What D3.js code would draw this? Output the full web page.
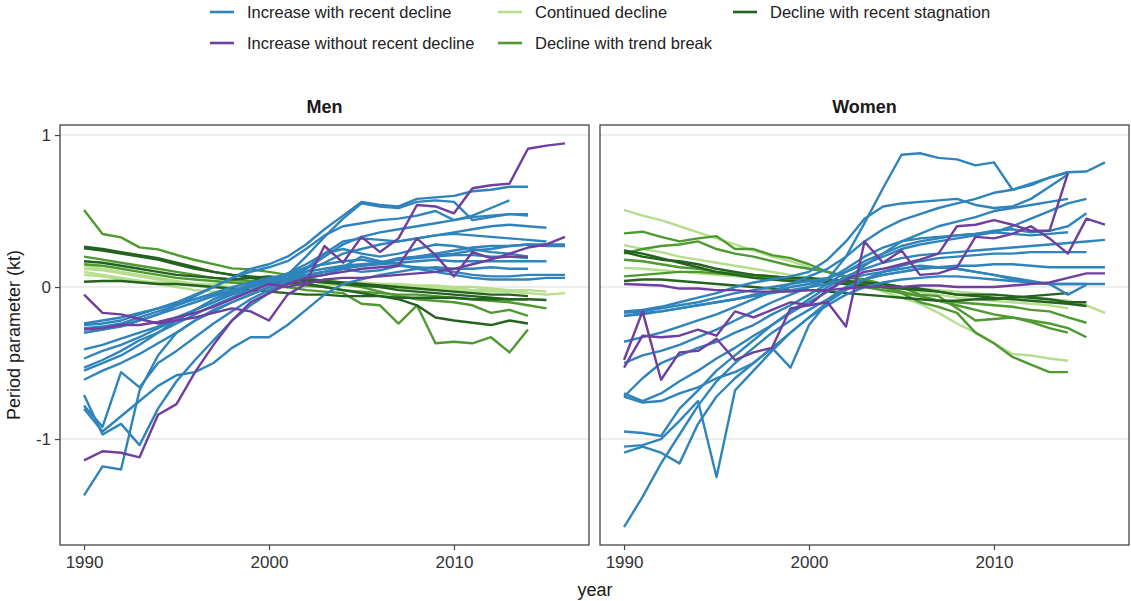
<!DOCTYPE html>
<html>
<head>
<meta charset="utf-8">
<script src="https://cdn.jsdelivr.net/npm/d3@7"></script>
<style>
  html, body { margin: 0; padding: 0; background: #fff; }
  svg { display: block; font-family: "Liberation Sans", Arial, sans-serif; }
</style>
</head>
<body>
<svg id="chart" width="1131" height="601"></svg>
<script>
// Period parameter (kt) by year, every series starts in 1990.
const startYear = 1990;
const xTicks = [1990, 2000, 2010];
const yTicks = [-1, 0, 1];
const panels = ["Men", "Women"];

const categories = [
  "Increase with recent decline",
  "Increase without recent decline",
  "Continued decline",
  "Decline with trend break",
  "Decline with recent stagnation"
];
const categoryColors = ["#2f84bb", "#6f3f9f", "#b5de8e", "#4e9a30", "#24621f"];

// ---- Men ----
const menIncreaseRecentDecline = [
  [-0.30,-0.28,-0.25,-0.22,-0.18,-0.12,-0.06,0.00,0.06,0.12,0.15,0.20,0.28,0.38,0.47,0.56,0.54,0.53,0.58,0.59,0.60,0.63,0.64,0.66,0.66],
  [-0.47,-0.42,-0.38,-0.33,-0.27,-0.22,-0.15,-0.08,-0.03,0.02,0.05,0.08,0.20,0.33,0.45,0.55,0.53,0.52,0.56,0.57,0.56,0.44,0.46,0.48,0.48],
  [-0.25,-0.24,-0.22,-0.18,-0.14,-0.10,-0.05,0.00,0.06,0.10,0.13,0.17,0.25,0.34,0.40,0.42,0.44,0.45,0.47,0.50,0.44,0.47,0.52,0.57],
  [-0.55,-0.50,-0.45,-0.38,-0.30,-0.24,-0.18,-0.12,-0.07,-0.02,0.02,0.06,0.12,0.20,0.28,0.33,0.36,0.38,0.40,0.42,0.44,0.46,0.47,0.48,0.47],
  [-0.61,-0.55,-0.50,-0.44,-0.37,-0.30,-0.22,-0.15,-0.10,-0.05,0.00,0.04,0.10,0.16,0.22,0.25,0.28,0.30,0.32,0.34,0.36,0.38,0.40,0.41,0.40,0.39],
  [-0.27,-0.26,-0.24,-0.20,-0.16,-0.12,-0.08,-0.04,0.00,0.03,0.06,0.08,0.10,0.12,0.14,0.15,0.16,0.18,0.20,0.21,0.22,0.24,0.25,0.27,0.28,0.28,0.28],
  [-0.41,-0.38,-0.34,-0.30,-0.26,-0.20,-0.15,-0.10,-0.05,-0.02,0.02,0.08,0.13,0.15,0.17,0.18,0.16,0.19,0.20,0.22,0.24,0.26,0.27,0.27,0.28,0.27,0.27],
  [-0.71,-0.97,-0.90,-1.04,-0.80,-0.62,-0.48,-0.35,-0.22,-0.12,-0.04,0.02,0.08,0.10,0.13,0.14,0.15,0.16,0.17,0.18,0.17,0.17,0.17,0.17,0.17,0.17],
  [-0.78,-0.92,-0.56,-0.66,-0.50,-0.42,-0.33,-0.24,-0.16,-0.08,-0.02,0.03,0.06,0.08,0.12,0.10,0.11,0.14,0.13,0.12,0.10,0.08,0.07,0.07,0.08,0.08,0.08],
  [-1.37,-1.18,-1.20,-0.68,-0.45,-0.30,-0.22,-0.16,-0.10,-0.05,0.00,0.04,0.07,0.10,0.13,0.20,0.17,0.15,0.12,0.10,0.08,0.06,0.05,0.05,0.05,0.06,0.06],
  [-0.80,-0.95,-0.85,-0.75,-0.65,-0.58,-0.56,-0.50,-0.40,-0.33,-0.33,-0.25,-0.15,-0.05,0.02,0.05,0.08,0.10,0.12,0.13,0.12,0.12,0.13,0.12,0.12],
  [-0.24,-0.22,-0.20,-0.17,-0.14,-0.11,-0.08,-0.05,-0.02,0.01,0.04,0.06,0.08,0.10,0.12,0.14,0.16,0.18,0.19,0.20,0.21,0.21,0.20,0.20,0.19],
  [-0.30,-0.28,-0.26,-0.22,-0.18,-0.14,-0.10,-0.06,-0.03,0.00,0.03,0.05,0.12,0.22,0.30,0.32,0.31,0.30,0.32,0.34,0.35,0.34,0.33,0.32,0.31,0.30],
  [-0.53,-0.48,-0.42,-0.35,-0.30,-0.22,-0.15,-0.10,-0.04,0.00,0.05,0.09,0.15,0.22,0.25,0.22,0.20,0.22,0.25,0.28,0.27,0.25,0.23,0.22,0.20]
];
const menIncreaseNoDecline = [
  [-0.28,-0.27,-0.25,-0.25,-0.23,-0.20,-0.17,-0.13,-0.08,-0.03,0.02,0.00,0.03,0.27,0.16,0.33,0.23,0.32,0.54,0.53,0.485,0.65,0.67,0.68,0.91,0.93,0.945],
  [-0.05,-0.17,-0.18,-0.21,-0.24,-0.22,-0.20,-0.17,-0.14,-0.16,-0.22,-0.05,0.02,0.05,0.06,0.06,0.07,0.08,0.09,0.10,0.12,0.15,0.18,0.22,0.26,0.28,0.33],
  [-1.14,-1.08,-1.09,-1.12,-0.84,-0.77,-0.56,-0.38,-0.22,-0.10,-0.04,0.02,0.06,0.08,0.10,0.12,0.13,0.14,0.32,0.21,0.07,0.23,0.19,0.20,0.20]
];
const menContinuedDecline = [
  [0.12,0.11,0.09,0.07,0.05,0.03,0.01,0.00,-0.01,-0.02,-0.01,0.00,0.00,0.01,0.01,0.00,0.00,-0.01,-0.01,-0.02,-0.02,-0.03,-0.03,-0.03,-0.04,-0.05,-0.04],
  [0.10,0.08,0.06,0.04,0.02,0.00,-0.02,-0.03,-0.03,-0.02,-0.01,0.00,0.01,0.02,0.02,0.01,0.01,0.00,0.00,-0.01,-0.01,-0.02,-0.02,-0.02,-0.03],
  [0.08,0.07,0.05,0.04,0.03,0.02,0.02,0.02,0.03,0.04,0.05,0.05,0.04,0.04,0.03,0.03,0.02,0.02,0.01,0.01,0.00,0.00,-0.01,-0.02,-0.02,-0.03],
  [0.14,0.12,0.10,0.08,0.06,0.04,0.02,0.01,0.00,0.00,0.02,0.03,0.04,0.04,0.03,0.02,0.02,0.01,0.00,0.00,-0.01,-0.02,-0.02,-0.03,-0.04]
];
const menTrendBreak = [
  [0.507,0.349,0.327,0.261,0.248,0.211,0.178,0.151,0.123,0.116,0.10,0.08,0.06,0.04,0.02,0.00,-0.03,-0.06,-0.08,-0.09,-0.10,-0.12,-0.17,-0.15,-0.19],
  [0.15,0.14,0.12,0.10,0.08,0.06,0.05,0.04,0.03,0.02,0.02,0.00,-0.02,-0.03,-0.04,-0.11,-0.12,-0.24,-0.12,-0.37,-0.36,-0.37,-0.33,-0.43,-0.28],
  [0.20,0.18,0.16,0.14,0.12,0.10,0.08,0.06,0.05,0.04,0.03,0.02,0.01,0.00,-0.02,-0.03,-0.04,-0.05,-0.05,-0.06,-0.07,-0.08,-0.09,-0.10,-0.12,-0.14]
];
const menStagnation = [
  [0.265,0.25,0.23,0.21,0.19,0.16,0.13,0.10,0.08,0.06,0.04,0.03,0.02,0.00,-0.02,-0.04,-0.06,-0.08,-0.12,-0.20,-0.22,-0.235,-0.25,-0.22,-0.24],
  [0.255,0.24,0.22,0.20,0.18,0.15,0.12,0.10,0.08,0.07,0.06,0.05,0.04,0.03,0.02,0.01,0.00,-0.02,-0.03,-0.04,-0.05,-0.06,-0.07,-0.08,-0.08,-0.085],
  [0.17,0.16,0.14,0.12,0.10,0.08,0.07,0.06,0.05,0.06,0.07,0.06,0.05,0.04,0.03,0.02,0.01,0.00,-0.01,-0.02,-0.03,-0.04,-0.05,-0.05,-0.06],
  [0.035,0.04,0.04,0.03,0.02,0.02,0.01,0.00,-0.01,-0.02,-0.03,-0.04,-0.05,-0.05,-0.06,-0.06,-0.06,-0.07,-0.07,-0.07,-0.07,-0.08,-0.08,-0.08,-0.08]
];

// ---- Women ----
const womenIncreaseRecentDecline = [
  [-0.19,-0.17,-0.16,-0.14,-0.12,-0.10,-0.08,-0.05,-0.03,0.00,0.02,0.05,0.20,0.42,0.65,0.87,0.88,0.85,0.84,0.80,0.82,0.64,0.67,0.72,0.755],
  [-0.36,-0.33,-0.30,-0.26,-0.22,-0.18,-0.13,-0.08,-0.03,0.02,0.07,0.12,0.20,0.30,0.38,0.44,0.48,0.52,0.55,0.58,0.62,0.64,0.68,0.72,0.755,0.76,0.82],
  [-0.16,-0.15,-0.13,-0.10,-0.07,-0.04,0.00,0.03,0.05,0.07,0.10,0.18,0.30,0.45,0.53,0.55,0.56,0.57,0.58,0.54,0.52,0.53,0.58,0.66,0.74],
  [-0.70,-0.75,-0.70,-0.62,-0.55,-0.47,-0.40,-0.32,-0.25,-0.17,-0.10,-0.03,0.05,0.14,0.22,0.30,0.35,0.40,0.43,0.46,0.50,0.52,0.54,0.56,0.58],
  [-0.72,-0.60,-0.50,-0.45,-0.40,-0.36,-0.30,-0.25,-0.18,-0.12,-0.05,0.02,0.10,0.17,0.22,0.27,0.30,0.32,0.34,0.35,0.37,0.38,0.36,0.37,0.40,0.485],
  [-0.95,-0.96,-0.98,-0.80,-0.68,-0.55,-0.45,-0.35,-0.25,-0.16,-0.08,0.00,0.07,0.12,0.16,0.19,0.21,0.22,0.23,0.24,0.25,0.26,0.27,0.28,0.29,0.30,0.31],
  [-1.05,-1.04,-1.00,-0.88,-0.75,-1.25,-0.68,-0.55,-0.42,-0.30,-0.20,-0.10,-0.02,0.05,0.10,0.14,0.17,0.19,0.20,0.21,0.22,0.22,0.23,0.23,0.23,0.23],
  [-1.58,-1.38,-1.16,-0.97,-0.78,-0.62,-0.50,-0.40,-0.30,-0.22,-0.15,-0.08,0.00,0.05,0.08,0.10,0.12,0.13,0.14,0.14,0.15,0.15,0.14,0.13,0.13,0.13,0.13],
  [-1.09,-1.05,-1.09,-1.16,-0.90,-0.72,-0.60,-0.50,-0.40,-0.30,-0.20,-0.12,-0.05,0.00,0.03,0.05,0.06,0.07,0.07,0.06,0.05,0.04,0.03,0.02,0.02,0.02,0.02],
  [-0.72,-0.76,-0.75,-0.70,-0.66,-0.60,-0.56,-0.50,-0.40,-0.53,-0.25,-0.10,0.00,0.05,0.08,0.10,0.12,0.13,0.12,0.10,0.08,0.06,0.04,0.02,-0.05,0.015],
  [-0.17,-0.16,-0.14,-0.12,-0.10,-0.07,-0.04,-0.02,0.00,0.02,0.04,0.06,0.10,0.15,0.20,0.25,0.28,0.30,0.32,0.34,0.36,0.40,0.45,0.50,0.55,0.58],
  [-0.50,-0.45,-0.42,-0.38,-0.33,-0.28,-0.22,-0.16,-0.10,-0.05,0.00,0.05,0.12,0.20,0.26,0.30,0.32,0.33,0.34,0.35,0.36,0.35,0.34,0.35,0.36],
  [-0.19,-0.18,-0.16,-0.14,-0.12,-0.10,-0.08,-0.06,-0.04,-0.02,0.00,0.02,0.05,0.08,0.10,0.12,0.14,0.13,0.12,0.10,0.08,0.05,0.03,0.02,0.02,0.02]
];
const womenIncreaseNoDecline = [
  [0.02,0.015,0.01,-0.01,-0.01,-0.02,-0.02,-0.03,-0.03,-0.03,-0.02,-0.02,-0.01,0.00,0.00,0.00,0.01,0.01,0.00,0.00,0.00,0.01,0.02,0.03,0.06,0.09,0.09],
  [-0.48,-0.16,-0.61,-0.43,-0.42,-0.34,-0.48,-0.43,-0.40,-0.14,-0.12,-0.10,-0.26,0.30,0.16,0.24,0.08,0.09,0.13,0.33,0.32,0.35,0.40,0.32,0.22,0.45,0.41],
  [-0.53,-0.32,-0.33,-0.32,-0.28,-0.32,-0.16,-0.20,-0.15,-0.10,-0.12,-0.02,0.05,0.10,0.12,0.15,0.18,0.22,0.40,0.41,0.44,0.41,0.37,0.37,0.75]
];
const womenContinuedDecline = [
  [0.507,0.47,0.44,0.40,0.36,0.32,0.28,0.24,0.20,0.17,0.13,0.10,0.06,0.02,-0.03,-0.07,-0.11,-0.17,-0.24,-0.30,-0.37,-0.44,-0.45,-0.47,-0.485],
  [0.276,0.25,0.23,0.20,0.18,0.16,0.14,0.12,0.10,0.08,0.06,0.04,0.03,0.02,0.01,0.00,-0.01,-0.02,-0.03,-0.04,-0.05,-0.06,-0.07,-0.08,-0.09,-0.12,-0.17],
  [0.125,0.12,0.11,0.10,0.09,0.08,0.07,0.06,0.05,0.04,0.04,0.03,0.02,0.01,0.00,-0.01,-0.03,-0.05,-0.07,-0.08,-0.09,-0.10,-0.11,-0.12,-0.14]
];
const womenTrendBreak = [
  [0.353,0.364,0.33,0.30,0.32,0.335,0.25,0.25,0.21,0.19,0.15,0.10,0.07,0.04,0.00,-0.04,-0.10,-0.13,-0.17,-0.30,-0.37,-0.46,-0.51,-0.56,-0.56],
  [0.22,0.25,0.27,0.28,0.30,0.25,0.22,0.20,0.17,0.14,0.12,0.10,0.07,0.05,0.02,0.00,-0.05,-0.06,-0.14,-0.22,-0.21,-0.20,-0.22,-0.24,-0.27,-0.33],
  [0.07,0.08,0.09,0.10,0.10,0.09,0.08,0.07,0.06,0.05,0.05,0.04,0.03,0.02,0.00,-0.03,-0.06,-0.09,-0.12,-0.15,-0.18,-0.20,-0.23,-0.27,-0.30],
  [0.18,0.17,0.15,0.13,0.12,0.10,0.09,0.08,0.07,0.06,0.05,0.04,0.02,0.00,-0.02,-0.04,-0.06,-0.09,-0.10,-0.11,-0.12,-0.13,-0.15,-0.16,-0.20,-0.235]
];
const womenStagnation = [
  [0.23,0.20,0.18,0.17,0.15,0.12,0.10,0.08,0.07,0.06,0.06,0.05,0.04,0.03,0.02,0.00,-0.01,-0.03,-0.05,-0.06,-0.07,-0.08,-0.09,-0.10,-0.11,-0.125],
  [0.04,0.05,0.05,0.04,0.03,0.02,0.01,0.00,-0.01,-0.02,-0.02,-0.03,-0.04,-0.05,-0.06,-0.07,-0.08,-0.09,-0.09,-0.08,-0.08,-0.07,-0.06,-0.05,-0.04],
  [0.24,0.22,0.19,0.16,0.13,0.10,0.08,0.06,0.05,0.04,0.04,0.03,0.02,0.01,0.00,-0.01,-0.02,-0.03,-0.05,-0.05,-0.05,-0.06,-0.07,-0.08,-0.10,-0.10]
];

// Drawing order per panel: declines first, increases on top.
const panelSeries = {
  Men: [
    [2, menContinuedDecline], [3, menTrendBreak], [4, menStagnation],
    [0, menIncreaseRecentDecline], [1, menIncreaseNoDecline]
  ],
  Women: [
    [2, womenContinuedDecline], [3, womenTrendBreak], [4, womenStagnation],
    [0, womenIncreaseRecentDecline], [1, womenIncreaseNoDecline]
  ]
};

const svg = d3.select("#chart");
const panelTop = 125, panelBottom = 545;
const panelBoxes = [{x0: 60, x1: 589}, {x0: 600, x1: 1129}];

const y = d3.scaleLinear().domain([-1.697, 1.066]).range([panelBottom, panelTop]);

panels.forEach((name, i) => {
  const box = panelBoxes[i];
  const x = d3.scaleLinear().domain([1988.7, 2017.3]).range([box.x0, box.x1]);
  const g = svg.append("g");

  // horizontal grid lines
  g.selectAll("line.grid").data(yTicks).join("line")
    .attr("x1", box.x0).attr("x2", box.x1)
    .attr("y1", d => y(d)).attr("y2", d => y(d))
    .attr("stroke", "#dcdcdc").attr("stroke-width", 1.1);

  const line = d3.line().x((d, k) => x(startYear + k)).y(d => y(d));
  panelSeries[name].forEach(([ci, group]) => {
    g.selectAll(null).data(group).join("path")
      .attr("d", line)
      .attr("fill", "none")
      .attr("stroke", categoryColors[ci])
      .attr("stroke-width", 2.4)
      .attr("stroke-linejoin", "round")
      .attr("stroke-linecap", "butt");
  });

  // panel frame
  g.append("rect")
    .attr("x", box.x0).attr("y", panelTop)
    .attr("width", box.x1 - box.x0).attr("height", panelBottom - panelTop)
    .attr("fill", "none").attr("stroke", "#444").attr("stroke-width", 1.3);

  // x axis
  const xAxis = d3.axisBottom(x).tickValues(xTicks).tickFormat(d3.format("d")).tickSize(5).tickPadding(6);
  const ax = g.append("g").attr("transform", `translate(0,${panelBottom})`).call(xAxis);
  ax.select(".domain").remove();
  ax.selectAll(".tick line").attr("stroke", "#444").attr("stroke-width", 1.2);
  ax.selectAll(".tick text").attr("font-size", 17).attr("fill", "#333")
    .attr("font-family", "'Liberation Sans', Arial, sans-serif");

  // strip title
  g.append("text")
    .attr("x", (box.x0 + box.x1) / 2).attr("y", 113)
    .attr("text-anchor", "middle").attr("font-size", 18).attr("font-weight", "bold")
    .attr("fill", "#1a1a1a").text(name);
});

// y axis on the left panel
const yAxis = d3.axisLeft(y).tickValues(yTicks).tickFormat(d3.format("d")).tickSize(5).tickPadding(4);
const ay = svg.append("g").attr("transform", `translate(${panelBoxes[0].x0},0)`).call(yAxis);
ay.select(".domain").remove();
ay.selectAll(".tick line").attr("stroke", "#444").attr("stroke-width", 1.2);
ay.selectAll(".tick text").attr("font-size", 17).attr("fill", "#333")
  .attr("font-family", "'Liberation Sans', Arial, sans-serif")
  .text(d => d < 0 ? "-" + Math.abs(d) : d);

// axis titles
svg.append("text").attr("x", 595).attr("y", 596).attr("text-anchor", "middle")
  .attr("font-size", 18).attr("fill", "#1a1a1a").text("year");
svg.append("text").attr("transform", `translate(20,${(panelTop + panelBottom) / 2}) rotate(-90)`)
  .attr("text-anchor", "middle").attr("font-size", 18).attr("fill", "#1a1a1a")
  .text("Period parameter (kt)");

// legend, three columns by two rows
const legendItems = [
  {ci: 0, col: 0, row: 0}, {ci: 2, col: 1, row: 0}, {ci: 4, col: 2, row: 0},
  {ci: 1, col: 0, row: 1}, {ci: 3, col: 1, row: 1}
];
const colX = [210, 498, 733];
const rowY = [12, 43];
const lg = svg.append("g");
legendItems.forEach(it => {
  const gx = colX[it.col], gy = rowY[it.row];
  lg.append("line").attr("x1", gx).attr("x2", gx + 24).attr("y1", gy).attr("y2", gy)
    .attr("stroke", categoryColors[it.ci]).attr("stroke-width", 2.6);
  lg.append("text").attr("x", gx + 37).attr("y", gy + 5.5)
    .attr("font-size", 16.5).attr("fill", "#222").text(categories[it.ci]);
});
</script>
</body>
</html>
